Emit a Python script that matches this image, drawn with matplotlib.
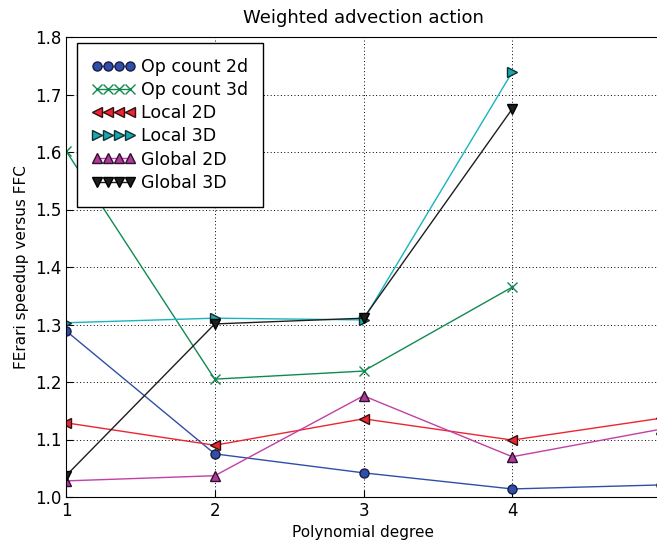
import matplotlib
matplotlib.use("Agg")
import matplotlib.pyplot as plt

# ---------------- data ---------------- #

degree = [1, 2, 3, 4, 5]
degree_3d = [1, 2, 3, 4]

opcount_2d = [1.289, 1.075, 1.042, 1.014, 1.021]
opcount_3d = [1.602, 1.205, 1.219, 1.365]
local_2d = [1.129, 1.090, 1.136, 1.099, 1.137]
local_3d = [1.303, 1.311, 1.308, 1.739]
global_2d = [1.028, 1.037, 1.176, 1.070, 1.118]
global_3d = [1.037, 1.301, 1.311, 1.675]

xticks = [1, 2, 3, 4]
yticks = [1.0, 1.1, 1.2, 1.3, 1.4, 1.5, 1.6, 1.7, 1.8]

# ---------------- plot ---------------- #

plt.rcParams['font.family'] = ['DejaVu Sans']
plt.rcParams['xtick.direction'] = 'in'
plt.rcParams['ytick.direction'] = 'in'

fig = plt.figure(figsize=(6.57, 5.41), dpi=100)
ax = fig.add_axes([66 / 657, 44 / 541, 595 / 657, 460 / 541])

ms = 6.5
ax.plot(degree, opcount_2d, color='#2f4fa8', marker='o', ms=ms, mfc='#2f4fa8', mec='#1a1a40', lw=1, label='Op count 2d')
ax.plot(degree_3d, opcount_3d, color='#108a50', marker='x', ms=ms, mew=1, lw=1, label='Op count 3d')
ax.plot(degree, local_2d, color='#ee2530', marker='<', ms=ms, mfc='#ee2530', mec='#301010', lw=1, label='Local 2D')
ax.plot(degree_3d, local_3d, color='#19b4bd', marker='>', ms=ms, mfc='#19a8b0', mec='#103030', lw=1, label='Local 3D')
ax.plot(degree, global_2d, color='#c23fa6', marker='^', ms=ms, mfc='#b03a98', mec='#301030', lw=1, label='Global 2D')
ax.plot(degree_3d, global_3d, color='#1e1e1e', marker='v', ms=ms, mfc='#1e1e1e', mec='#000000', lw=1, label='Global 3D')

ax.set_xlim(1, 5)
ax.set_ylim(1.0, 1.8)
ax.set_xticks(xticks)
ax.set_yticks(yticks)
ax.tick_params(labelsize=12, length=5, width=0.8)
ax.grid(True, color='black', linestyle=(0, (1, 2.5)), lw=0.7)

ax.set_title('Weighted advection action', fontsize=13, pad=10)
ax.set_xlabel('Polynomial degree', fontsize=11)
ax.set_ylabel('FErari speedup versus FFC', fontsize=11)

leg = ax.legend(loc='upper left', numpoints=4, fontsize=12.5, fancybox=False,
                framealpha=1, edgecolor='black', handlelength=2.5,
                handletextpad=0.35, labelspacing=0.3, borderpad=0.85,
                borderaxespad=0, bbox_to_anchor=(0.0185, 0.987))
leg.get_frame().set_linewidth(1)

fig.savefig('out.png', dpi=100)
